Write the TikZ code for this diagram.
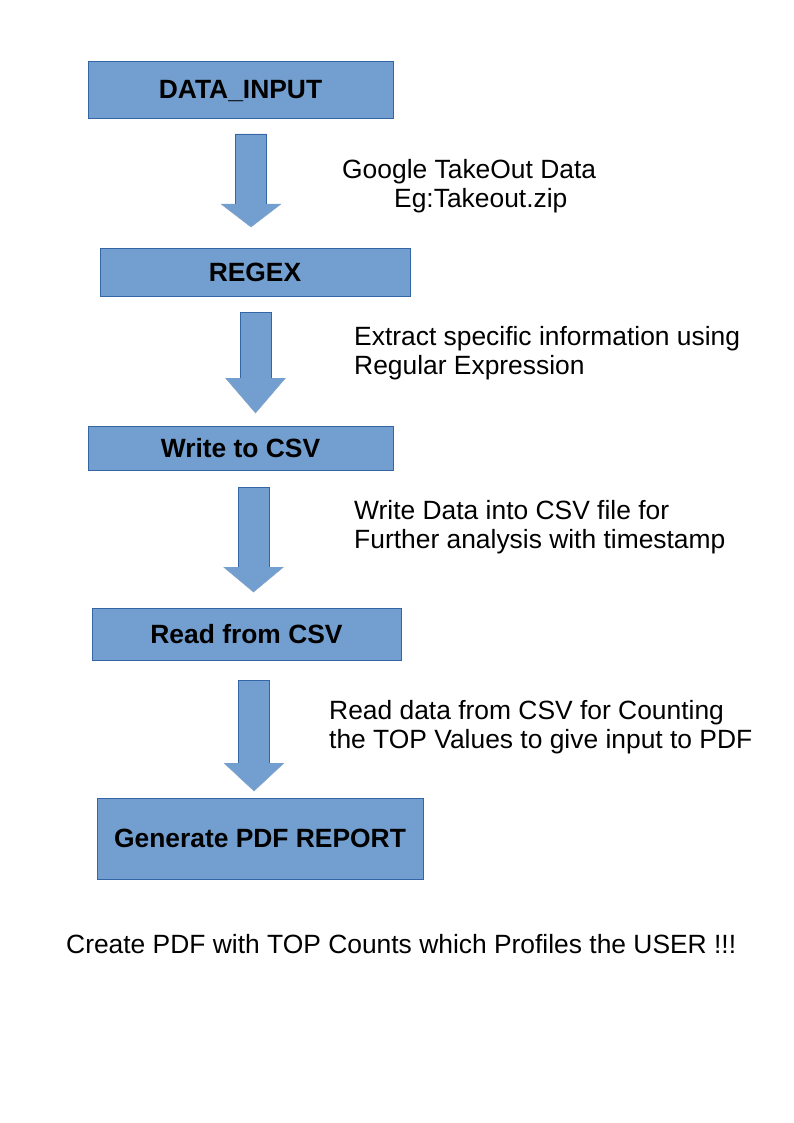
\documentclass[tikz,border=0pt]{standalone}
\usepackage{fontspec}
\setmainfont{Liberation Sans}
\usepackage{tikz}
\usetikzlibrary{positioning,calc}
\definecolor{boxfill}{HTML}{729FCF}
\definecolor{boxline}{HTML}{3465A4}
\newcommand{\blockarrow}[4]{%
  \fill[boxfill] (#1-15.5,#2) -- (#1+15.5,#2) -- (#1+15.5,#3) -- (#1+30,#3)
    -- (#1,#4) -- (#1-30,#3) -- (#1-15.5,#3) -- cycle;
  \draw[boxline, line width=0.6pt] (#1-15.5,#3) -- (#1-15.5,#2) -- (#1+15.5,#2)
    -- (#1+15.5,#3);
  \draw[boxline!60, line width=0.5pt] (#1-30,#3) -- (#1,#4) -- (#1+30,#3);}
\tikzset{
  stepbox/.style={draw=boxline, fill=boxfill, line width=0.8pt, inner sep=0pt,
    font=\fontsize{26.4}{29}\selectfont\bfseries},
  note/.style={anchor=base west, inner sep=0pt, align=left,
    font=\fontsize{26.4}{29}\selectfont}
}

\begin{document}
\begin{tikzpicture}[x=1pt,y=-1pt]
            \useasboundingbox (0,0) rectangle (794,1123);
            % steps
            \node[stepbox, minimum width=305pt, minimum height=57pt, text depth=0pt] (input) at (240.5,89.5) {DATA\_INPUT};
            \node[stepbox, minimum width=310pt, minimum height=48pt] (regex) at (255,272) {REGEX};
            \node[stepbox, minimum width=305pt, minimum height=44pt] (write) at (240.5,448) {Write to CSV};
            \node[stepbox, minimum width=309pt, minimum height=52pt] (read) at (246.5,634) {Read from CSV};
            \node[stepbox, minimum width=326pt, minimum height=81pt] (report) at (260,838.5) {Generate PDF REPORT};
            % arrows between the steps
            \blockarrow{251}{134}{204}{227}
            \blockarrow{255.5}{312}{378}{413}
            \blockarrow{253.5}{487}{567}{592}
            \blockarrow{254}{680}{763}{791}
            % notes (base is the last line)
            \node[note] (takeout) at (342,208) {Google TakeOut Data\\\hspace*{52pt}Eg:Takeout.zip};
            \node[note] (extract) at (354,374) {Extract specific information using\\Regular Expression};
            \node[note] (csvnote) at (354,548) {Write Data into CSV file for\\Further analysis with timestamp};
            \node[note] (count) at (329,748) {Read data from CSV for Counting\\the TOP Values to give input to PDF};
            \node[note] (profile) at (66,953) {Create PDF with TOP Counts which Profiles the USER !!!};
        \end{tikzpicture}
\end{document}
